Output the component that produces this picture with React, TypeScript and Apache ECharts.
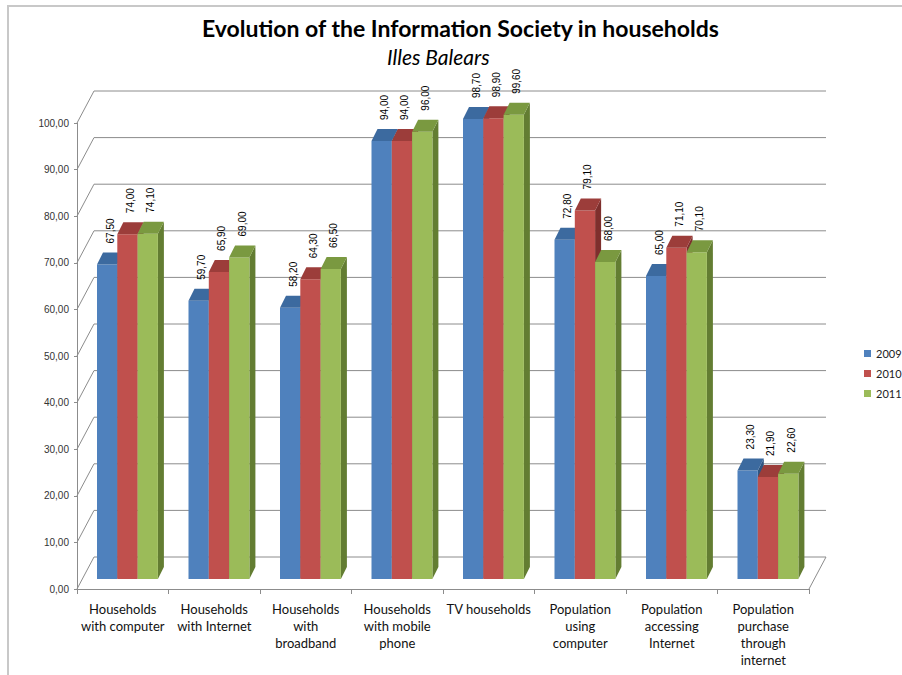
import React, { useEffect, useRef } from "react";
import * as echarts from "echarts";

const categories = [
  "Households\nwith computer",
  "Households\nwith Internet",
  "Households\nwith\nbroadband",
  "Households\nwith mobile\nphone",
  "TV households",
  "Population\nusing\ncomputer",
  "Population\naccessing\nInternet",
  "Population\npurchase\nthrough\ninternet",
];

const years = ["2009", "2010", "2011"];
const values2009 = [67.5, 59.7, 58.2, 94.0, 98.7, 72.8, 65.0, 23.3];
const values2010 = [74.0, 65.9, 64.3, 94.0, 98.9, 79.1, 71.1, 21.9];
const values2011 = [74.1, 69.0, 66.5, 96.0, 99.6, 68.0, 70.1, 22.6];
const yTicks = [0, 10, 20, 30, 40, 50, 60, 70, 80, 90, 100];

// front / top / side shades for each year
const palette = [
  { front: "#4F81BD", top: "#3C6A9F", side: "#2F5581" },
  { front: "#C0504D", top: "#9C3D3A", side: "#7E2F2D" },
  { front: "#9BBB59", top: "#7A9940", side: "#637D32" },
];

// oblique depth of the walls and of the bars
const WALL_DX = 17;
const WALL_DY = -32;
const BAR_BASE_DY = -10;
const BAR_DX = 6;
const BAR_DY = -12;
const BAR_W = 20.3;

const fmt = (v: number) => v.toFixed(2).replace(".", ",");

export default function App() {
  const ref = useRef<HTMLDivElement>(null);

  useEffect(() => {
    if (!ref.current) return;
    const chart = echarts.init(ref.current, undefined, { renderer: "svg" });
    const seriesValues = [values2009, values2010, values2011];
    const wallColor = "#8c8c8c";

    const wallSeries: any = {
      type: "custom",
      name: "walls",
      z: 1,
      silent: true,
      data: yTicks.map((t) => [0, t]),
      renderItem: (params: any, api: any) => {
        const cs = params.coordSys;
        const v = api.value(1);
        const y = api.coord([0, v])[1];
        const x0 = cs.x;
        const x1 = cs.x + cs.width;
        const children: any[] = [
          {
            type: "line",
            shape: { x1: x0, y1: y, x2: x0 + WALL_DX, y2: y + WALL_DY },
            style: { stroke: wallColor, lineWidth: 1 },
          },
          {
            type: "line",
            shape: { x1: x0 + WALL_DX, y1: y + WALL_DY, x2: x1 + WALL_DX, y2: y + WALL_DY },
            style: { stroke: wallColor, lineWidth: 1 },
          },
        ];
        if (v === 0) {
          children.push({
            type: "line",
            shape: { x1: x1, y1: y, x2: x1 + WALL_DX, y2: y + WALL_DY },
            style: { stroke: wallColor, lineWidth: 1 },
          });
        }
        return { type: "group", children };
      },
    };

    const barSeries = years.map((year, s) => ({
      type: "custom",
      name: year,
      z: 2,
      itemStyle: { color: palette[s].front },
      data: seriesValues[s].map((v, i) => [i, v]),
      renderItem: (params: any, api: any) => {
        const i = api.value(0);
        const v = api.value(1);
        const base = api.coord([i, 0]);
        const topPt = api.coord([i, v]);
        const cx = base[0];
        const xL = cx - 25.75 + s * BAR_W;
        const xR = xL + BAR_W;
        const yB = base[1] + BAR_BASE_DY;
        const yT = topPt[1] + BAR_BASE_DY;
        const c = palette[s];
        return {
          type: "group",
          children: [
            {
              type: "polygon",
              shape: {
                points: [
                  [xR, yT],
                  [xR + BAR_DX, yT + BAR_DY],
                  [xR + BAR_DX, yB + BAR_DY],
                  [xR, yB],
                ],
              },
              style: { fill: c.side },
            },
            {
              type: "rect",
              shape: { x: xL, y: yT, width: BAR_W, height: yB - yT },
              style: { fill: c.front },
            },
            {
              type: "polygon",
              shape: {
                points: [
                  [xL, yT],
                  [xR, yT],
                  [xR + BAR_DX, yT + BAR_DY],
                  [xL + BAR_DX, yT + BAR_DY],
                ],
              },
              style: { fill: c.top },
            },
            {
              type: "text",
              x: xL + BAR_W / 2 + BAR_DX / 2,
              y: yT + BAR_DY - 9,
              rotation: Math.PI / 2,
              style: {
                text: fmt(v),
                fill: "#000000",
                fontSize: 10,
                fontFamily: "Liberation Sans",
                align: "left",
                verticalAlign: "middle",
              },
            },
          ],
        };
      },
    }));

    chart.setOption({
      animation: false,
      backgroundColor: "#ffffff",
      title: [
        {
          text: "Evolution of the Information Society in households",
          left: 197,
          top: 11,
          textStyle: {
            fontFamily: "Lato",
            fontWeight: "bold",
            fontSize: 23,
            color: "#000000",
          },
        },
        {
          text: "Illes Balears",
          left: 382,
          top: 41,
          textStyle: {
            fontFamily: "Lato",
            fontStyle: "italic",
            fontWeight: "normal",
            fontSize: 21,
            color: "#000000",
          },
        },
      ],
      legend: {
        data: years,
        orient: "vertical",
        left: 864,
        top: 348,
        padding: 0,
        itemWidth: 7,
        itemHeight: 7,
        itemGap: 9,
        icon: "rect",
        textStyle: { fontFamily: "Lato", fontSize: 11, color: "#222222" },
      },
      grid: { left: 77, right: 93, top: 123, bottom: 86, containLabel: false },
      xAxis: {
        type: "category",
        data: categories,
        axisLine: { show: true, lineStyle: { color: wallColor, width: 1 } },
        axisTick: { show: true, length: 5, lineStyle: { color: wallColor } },
        axisLabel: {
          interval: 0,
          margin: 11,
          fontFamily: "Lato",
          fontSize: 13,
          lineHeight: 17,
          color: "#111111",
        },
        splitLine: { show: false },
      },
      yAxis: {
        type: "value",
        min: 0,
        max: 100,
        interval: 10,
        axisLine: { show: true, lineStyle: { color: wallColor, width: 1 } },
        axisTick: { show: true, length: 3, lineStyle: { color: wallColor } },
        axisLabel: {
          margin: 8,
          fontFamily: "Liberation Sans",
          fontSize: 10,
          color: "#333333",
          formatter: (v: number) => fmt(v),
        },
        splitLine: { show: false },
      },
      graphic: [
        {
          type: "polyline",
          silent: true,
          shape: { points: [[8, 675], [8, 6], [902, 6]] },
          style: { stroke: "#c8c8c8", lineWidth: 2, fill: "none" },
        },
      ],
      series: [wallSeries, ...barSeries],
    });

    return () => chart.dispose();
  }, []);

  return (
    <div
      ref={ref}
      style={{ position: "fixed", left: 0, top: 0, width: 902, height: 675 }}
    />
  );
}
